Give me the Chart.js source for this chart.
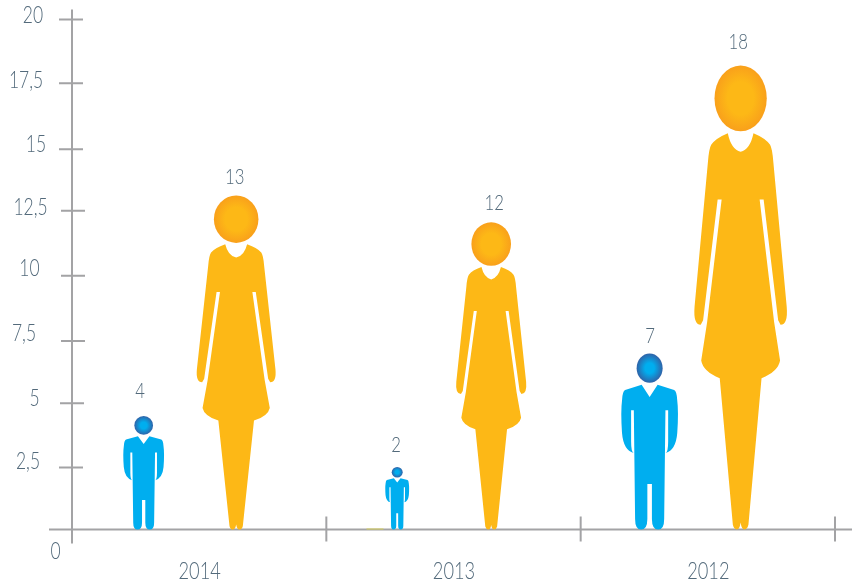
<!DOCTYPE html>
<html>
<head>
<meta charset="utf-8">
<script src="https://cdn.jsdelivr.net/npm/chart.js@4"></script>
<style>
  html, body { margin: 0; background: #fff; }
  canvas { display: block; }
</style>
</head>
<body>
<canvas id="chart" width="852" height="585"></canvas>
<script>
const categories = ["2014", "2013", "2012"];
// printed values
const menLabels = ["4", "2", "7"];
const womenLabels = ["13", "12", "18"];
// height of each figure
const menHeights = [4.45, 2.45, 6.9];
const womenHeights = [13.1, 12.05, 18.2];

const FONT = "Lato, sans-serif";
const TEXT_COLOR = "#536a7b";
const AXIS_COLOR = "#a3a3a5";

// figure layout, px relative to the category centre
const layout = {
  men: { dx: [-55.5, -56.3, -58.2], width: [41, 24, 57], labelDx: [-3.5, -1, 0.5], labelGap: [25, 22, 18] },
  women: { dx: [37, 37.7, 32.8], width: [81, 72, 95], labelDx: [-1.5, 3, -2.5], labelGap: [19, 19, 23] },
};
// y tick label nudges, px, from 0 up to 20 [centre x, dy]
const yLabelPos = [[55.5, 22.5], [28, -3.75], [34.5, -3], [24, -4.25], [29.5, -5.5], [30.5, -2.75], [36, -2], [26, -2.75], [33, -4]];
// y tick marks are not evenly spaced in the original [dx, dy]
const yTickNudge = [[0, 0], [0, 1.7], [1, 1.3], [2, 2.7], [2, 1.3], [2, 0], [0, 2.3], [0, 0], [0, 0]];

// text is squeezed sideways, none of the installed fonts is condensed
function drawText(ctx, text, x, y, size) {
  ctx.save();
  ctx.translate(x, y);
  ctx.scale(0.76, 1);
  ctx.fillStyle = TEXT_COLOR;
  ctx.font = `300 ${size}px ${FONT}`;
  ctx.textAlign = "center";
  ctx.textBaseline = "middle";
  ctx.fillText(text, 0, 0);
  ctx.restore();
}

// half outlines, u = -1..1 across the figure, v = 0..1 top to bottom
function womanHalf(ctx, X, Y) {
  ctx.moveTo(X(0), Y(0.186));
  ctx.quadraticCurveTo(X(0.2), Y(0.181), X(0.27), Y(0.146));
  ctx.quadraticCurveTo(X(0.53), Y(0.157), X(0.62), Y(0.171));
  ctx.quadraticCurveTo(X(0.67), Y(0.18), X(0.69), Y(0.21));
  ctx.lineTo(X(0.97), Y(0.52));
  ctx.quadraticCurveTo(X(1.0), Y(0.559), X(0.84), Y(0.559));
  ctx.lineTo(X(0.79), Y(0.549));
  ctx.lineTo(X(0.484), Y(0.289));
  ctx.lineTo(X(0.40), Y(0.289));
  ctx.lineTo(X(0.705), Y(0.553));
  ctx.lineTo(X(0.83), Y(0.636));
  ctx.quadraticCurveTo(X(0.79), Y(0.66), X(0.44), Y(0.674));
  ctx.lineTo(X(0.164), Y(0.99));
  ctx.quadraticCurveTo(X(0.14), Y(1), X(0.08), Y(1));
  ctx.quadraticCurveTo(X(0.02), Y(1), X(0), Y(0.985));
  ctx.closePath();
}

function manHalf(ctx, X, Y) {
  ctx.moveTo(X(0), Y(0.247));
  ctx.lineTo(X(0.28), Y(0.178));
  ctx.lineTo(X(0.86), Y(0.207));
  ctx.quadraticCurveTo(X(0.95), Y(0.215), X(0.965), Y(0.26));
  ctx.quadraticCurveTo(X(1.02), Y(0.33), X(0.97), Y(0.45));
  ctx.quadraticCurveTo(X(0.92), Y(0.55), X(0.56), Y(0.565));
  ctx.quadraticCurveTo(X(0.65), Y(0.56), X(0.65), Y(0.5));
  ctx.lineTo(X(0.65), Y(0.322));
  ctx.lineTo(X(0.555), Y(0.322));
  ctx.lineTo(X(0.51), Y(0.94));
  ctx.quadraticCurveTo(X(0.51), Y(1), X(0.3), Y(1));
  ctx.quadraticCurveTo(X(0.08), Y(1), X(0.08), Y(0.94));
  ctx.lineTo(X(0.08), Y(0.741));
  ctx.lineTo(X(0), Y(0.741));
  ctx.closePath();
}

function drawFigure(ctx, shape, cx, top, base, width) {
  const Y = (v) => top + v * (base - top);
  const half = width / 2;
  ctx.fillStyle = shape.body;
  ctx.beginPath();
  shape.half(ctx, (u) => cx + u * half, Y);
  shape.half(ctx, (u) => cx - u * half, Y);
  ctx.fill();

  const rx = shape.headRx * half;
  const ry = shape.headRy * (base - top);
  const hy = top + ry;
  const grad = ctx.createRadialGradient(0, 0, 0, 0, 0, 1);
  grad.addColorStop(shape.headStop, shape.headInner);
  grad.addColorStop(1, shape.headOuter);
  ctx.save();
  ctx.translate(cx, hy);
  ctx.scale(rx, ry);
  ctx.fillStyle = grad;
  ctx.beginPath();
  ctx.arc(0, 0, 1, 0, Math.PI * 2);
  ctx.fill();
  ctx.restore();
}

const shapes = [
  { key: "men", half: manHalf, body: "#00aeef", headInner: "#00aeef", headOuter: "#2f63a8", headStop: 0.35, headRx: 0.456, headRy: 0.083, labels: menLabels },
  { key: "women", half: womanHalf, body: "#fdb816", headInner: "#fdb816", headOuter: "#f9a01b", headStop: 0.5, headRx: 0.55, headRy: 0.071, labels: womenLabels },
];

// crossed axes, tick labels
const axesPlugin = {
  id: "crossedAxes",
  beforeDatasetsDraw(chart) {
    const { ctx, scales: { x, y } } = chart;
    ctx.save();
    ctx.strokeStyle = AXIS_COLOR;
    ctx.lineWidth = 2;
    ctx.beginPath();
    ctx.moveTo(x.left, y.top - 10);
    ctx.lineTo(x.left, y.bottom + 14);
    ctx.moveTo(x.left - 23, y.bottom);
    ctx.lineTo(chart.width, y.bottom);
    y.ticks.forEach((tick, i) => {
      if (i === 0) return;
      const py = y.getPixelForTick(i) + yTickNudge[i][1];
      ctx.moveTo(x.left - 13 + yTickNudge[i][0], py);
      ctx.lineTo(x.left + 11 + yTickNudge[i][0], py);
    });
    const step = x.width / categories.length;
    for (let i = 1; i <= categories.length; i++) {
      ctx.moveTo(x.left + i * step, y.bottom - 13);
      ctx.lineTo(x.left + i * step, y.bottom + 12);
    }
    ctx.stroke();

    // thin yellow remnant on the baseline, 2013
    ctx.strokeStyle = "#d6cf5a";
    ctx.lineWidth = 1;
    ctx.beginPath();
    ctx.moveTo(x.getPixelForTick(1) - 87, y.bottom - 0.5);
    ctx.lineTo(x.getPixelForTick(1) - 70, y.bottom - 0.5);
    ctx.stroke();
    ctx.restore();

    y.ticks.forEach((tick, i) => {
      drawText(ctx, tick.label, yLabelPos[i][0], y.getPixelForTick(i) + yLabelPos[i][1], 23);
    });
    x.ticks.forEach((tick, i) => {
      drawText(ctx, tick.label, x.getPixelForTick(i) + 0.5, y.bottom + 42, 24);
    });
  },
  afterDatasetsDraw(chart) {
    const { ctx, scales: { x } } = chart;
    shapes.forEach((shape, d) => {
      const cfg = layout[shape.key];
      chart.getDatasetMeta(d).data.forEach((bar, i) => {
        const cx = x.getPixelForTick(i) + cfg.dx[i];
        drawFigure(ctx, shape, cx, bar.y, bar.base, cfg.width[i]);
        drawText(ctx, shape.labels[i], cx + cfg.labelDx[i], bar.y - cfg.labelGap[i], 22);
      });
    });
  },
};

new Chart(document.getElementById("chart"), {
  type: "bar",
  data: {
    labels: categories,
    datasets: [
      { label: "Men", data: menHeights, backgroundColor: "transparent" },
      { label: "Women", data: womenHeights, backgroundColor: "transparent" },
    ],
  },
  options: {
    responsive: false,
    animation: false,
    layout: { padding: { left: 72, right: 17, top: 19.5, bottom: 0 } },
    plugins: { legend: { display: false }, tooltip: { enabled: false } },
    scales: {
      x: {
        grid: { display: false },
        border: { display: false },
        afterFit(scale) { scale.height = 55.5; },
        ticks: { display: false },
      },
      y: {
        min: 0,
        max: 20,
        grid: { display: false },
        border: { display: false },
        afterFit(scale) { scale.width = 0; },
        ticks: {
          display: false,
          stepSize: 2.5,
          autoSkip: false,
          callback: (v) => String(v).replace(".", ","),
        },
      },
    },
  },
  plugins: [axesPlugin],
});
</script>
</body>
</html>
